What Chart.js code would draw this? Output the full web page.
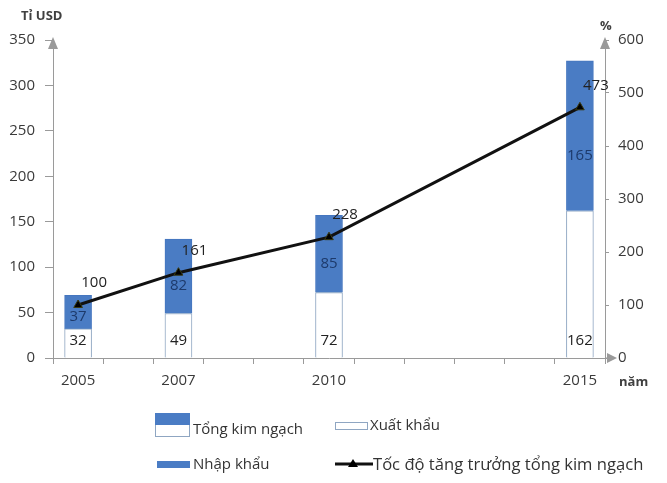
<!DOCTYPE html>
<html>
<head>
<meta charset="utf-8">
<script src="https://cdn.jsdelivr.net/npm/chart.js@4.4.0/dist/chart.umd.min.js"></script>
<style>
    body { margin: 0; background: #fff; }
    #wrap { position: relative; width: 667px; height: 483px; font-family: 'Open Sans', sans-serif; color: #333; }
    #chart { position: absolute; left: 0; top: 0; }
    .lbl { position: absolute; white-space: nowrap; }
    .bold { font-weight: bold; font-size: 13px; color: #404040; }
    .leg { font-size: 15px; color: #333; }
    .box { position: absolute; box-sizing: border-box; }
</style>
</head>
<body>
<div id="wrap">
    <canvas id="chart" width="667" height="483"></canvas>
    <div class="lbl bold" style="left:21px; top:6px;">Tỉ USD</div>
    <div class="lbl bold" style="left:600px; top:16px;">%</div>
    <div class="lbl bold" style="left:619px; top:372px;">năm</div>

    <div class="box" style="left:155px; top:413px; width:35px; height:12px; background:#4a7cc4;"></div>
    <div class="box" style="left:155px; top:425px; width:35px; height:12px; border:1px solid #8fa6c2; border-top:none;"></div>
    <div class="lbl leg" style="left:193px; top:418px;">Tổng kim ngạch</div>

    <div class="box" style="left:335px; top:422px; width:33px; height:8px; border:1px solid #8fa6c2;"></div>
    <div class="lbl leg" style="left:370px; top:414px;">Xuất khẩu</div>

    <div class="box" style="left:157px; top:461px; width:33px; height:7px; background:#4a7cc4;"></div>
    <div class="lbl leg" style="left:193px; top:453px;">Nhập khẩu</div>

    <canvas id="lineKey" width="40" height="14" style="position:absolute; left:334px; top:457px;"></canvas>
    <div class="lbl leg" style="left:373px; top:452px; font-size:16.6px;">Tốc độ tăng trưởng tổng kim ngạch</div>
</div>
<script>
// số liệu
const years = [2005, 2007, 2010, 2015];
const exportValues = [32, 49, 72, 162];   // Xuất khẩu (tỉ USD)
const importValues = [37, 82, 85, 165];   // Nhập khẩu (tỉ USD)
const growthRate = [100, 161, 228, 473];  // Tốc độ tăng trưởng tổng kim ngạch (%)

const allYears = [];
for (let y = years[0]; y <= years[years.length - 1]; y++) allYears.push(String(y));

const BLUE = '#4a7cc4';
const AXIS = '#9a9a9a';
const tickFont = { family: 'Open Sans', size: 15 };

// ký hiệu đường trong chú giải
(() => {
    const c = document.getElementById('lineKey').getContext('2d');
    c.strokeStyle = '#111';
    c.lineWidth = 3;
    c.beginPath(); c.moveTo(1, 7); c.lineTo(39, 7); c.stroke();
    c.fillStyle = '#000';
    c.beginPath(); c.moveTo(19, 2); c.lineTo(24, 10); c.lineTo(14, 10); c.closePath(); c.fill();
})();

const extras = {
    id: 'extras',
    afterDatasetsDraw(chart) {
        const ctx = chart.ctx;
        ctx.save();
        ctx.font = '15px "Open Sans"';
        ctx.textAlign = 'center';
        ctx.textBaseline = 'middle';

        const exp = chart.getDatasetMeta(1).data;
        const imp = chart.getDatasetMeta(2).data;
        const line = chart.getDatasetMeta(0).data;

        exp.forEach((bar, i) => {
            ctx.fillStyle = '#222';
            ctx.fillText(exportValues[i], bar.x, bar.base - 17);
        });
        imp.forEach((bar, i) => {
            ctx.fillStyle = '#1d3a6b';
            ctx.fillText(importValues[i], bar.x, bar.y + (bar.base - bar.y) * 0.63);
        });
        line.forEach((pt, i) => {
            ctx.fillStyle = '#222';
            ctx.fillText(growthRate[i], pt.x + 16, pt.y - 22);
        });
        ctx.restore();
    },
    afterDraw(chart) {
        const { ctx, chartArea: a } = chart;
        ctx.save();
        ctx.fillStyle = AXIS;
        ctx.strokeStyle = AXIS;
        const up = (x, y) => {
            ctx.beginPath(); ctx.moveTo(x, y - 3); ctx.lineTo(x + 5, y + 9); ctx.lineTo(x - 5, y + 9); ctx.closePath(); ctx.fill();
        };
        up(a.left, a.top);
        up(a.right, a.top);
        ctx.lineWidth = 1;
        ctx.beginPath(); ctx.moveTo(a.right, a.bottom); ctx.lineTo(a.right + 4, a.bottom); ctx.stroke();
        ctx.beginPath(); ctx.moveTo(a.right + 12, a.bottom); ctx.lineTo(a.right + 2, a.bottom - 5); ctx.lineTo(a.right + 2, a.bottom + 5); ctx.closePath(); ctx.fill();
        ctx.restore();
    }
};

new Chart(document.getElementById('chart'), {
    type: 'bar',
    data: {
        labels: allYears,
        datasets: [
            {
                type: 'line',
                label: 'Tốc độ tăng trưởng tổng kim ngạch',
                data: years.map((y, i) => ({ x: String(y), y: growthRate[i] })),
                yAxisID: 'y1',
                borderColor: '#111',
                borderWidth: 3,
                pointStyle: 'triangle',
                pointRadius: 5,
                pointBackgroundColor: '#000',
                pointBorderColor: '#3a3a10',
                pointBorderWidth: 1,
                order: 0,
            },
            {
                label: 'Xuất khẩu',
                data: years.map((y, i) => ({ x: String(y), y: exportValues[i] })),
                backgroundColor: '#ffffff',
                borderColor: '#8fa6c2',
                borderWidth: 1,
                barThickness: 27,
                order: 1,
            },
            {
                label: 'Nhập khẩu',
                data: years.map((y, i) => ({ x: String(y), y: importValues[i] })),
                backgroundColor: BLUE,
                borderColor: '#4576bf',
                borderWidth: 1,
                barThickness: 27,
                order: 1,
            },
        ],
    },
    options: {
        responsive: false,
        animation: false,
        devicePixelRatio: 1,
        layout: { padding: { top: 40, left: 0, right: 0, bottom: 0 } },
        plugins: {
            legend: { display: false },
            tooltip: { enabled: false },
        },
        scales: {
            x: {
                type: 'category',
                stacked: true,
                offset: true,
                grid: { display: true, drawOnChartArea: false, offset: true, tickLength: 6, color: AXIS },
                border: { color: AXIS },
                ticks: {
                    autoSkip: false,
                    maxRotation: 0,
                    padding: 8,
                    color: '#3a3a3a',
                    font: tickFont,
                    callback: (v, i) => years.includes(+allYears[i]) ? allYears[i] : '',
                },
                afterFit: (s) => { s.height = 125; },
            },
            y: {
                stacked: true,
                min: 0,
                max: 350,
                ticks: { stepSize: 50, padding: 10, color: '#3a3a3a', font: tickFont },
                grid: { drawOnChartArea: false, tickLength: 8, color: AXIS },
                border: { color: AXIS },
                afterFit: (s) => { s.width = 53; },
            },
            y1: {
                position: 'right',
                min: 0,
                max: 600,
                ticks: { stepSize: 100, padding: 9, color: '#3a3a3a', font: tickFont },
                grid: { drawOnChartArea: false, tickLength: 4, color: AXIS },
                border: { color: AXIS },
                afterFit: (s) => { s.width = 62; },
            },
        },
    },
    plugins: [extras],
});
</script>
</body>
</html>
